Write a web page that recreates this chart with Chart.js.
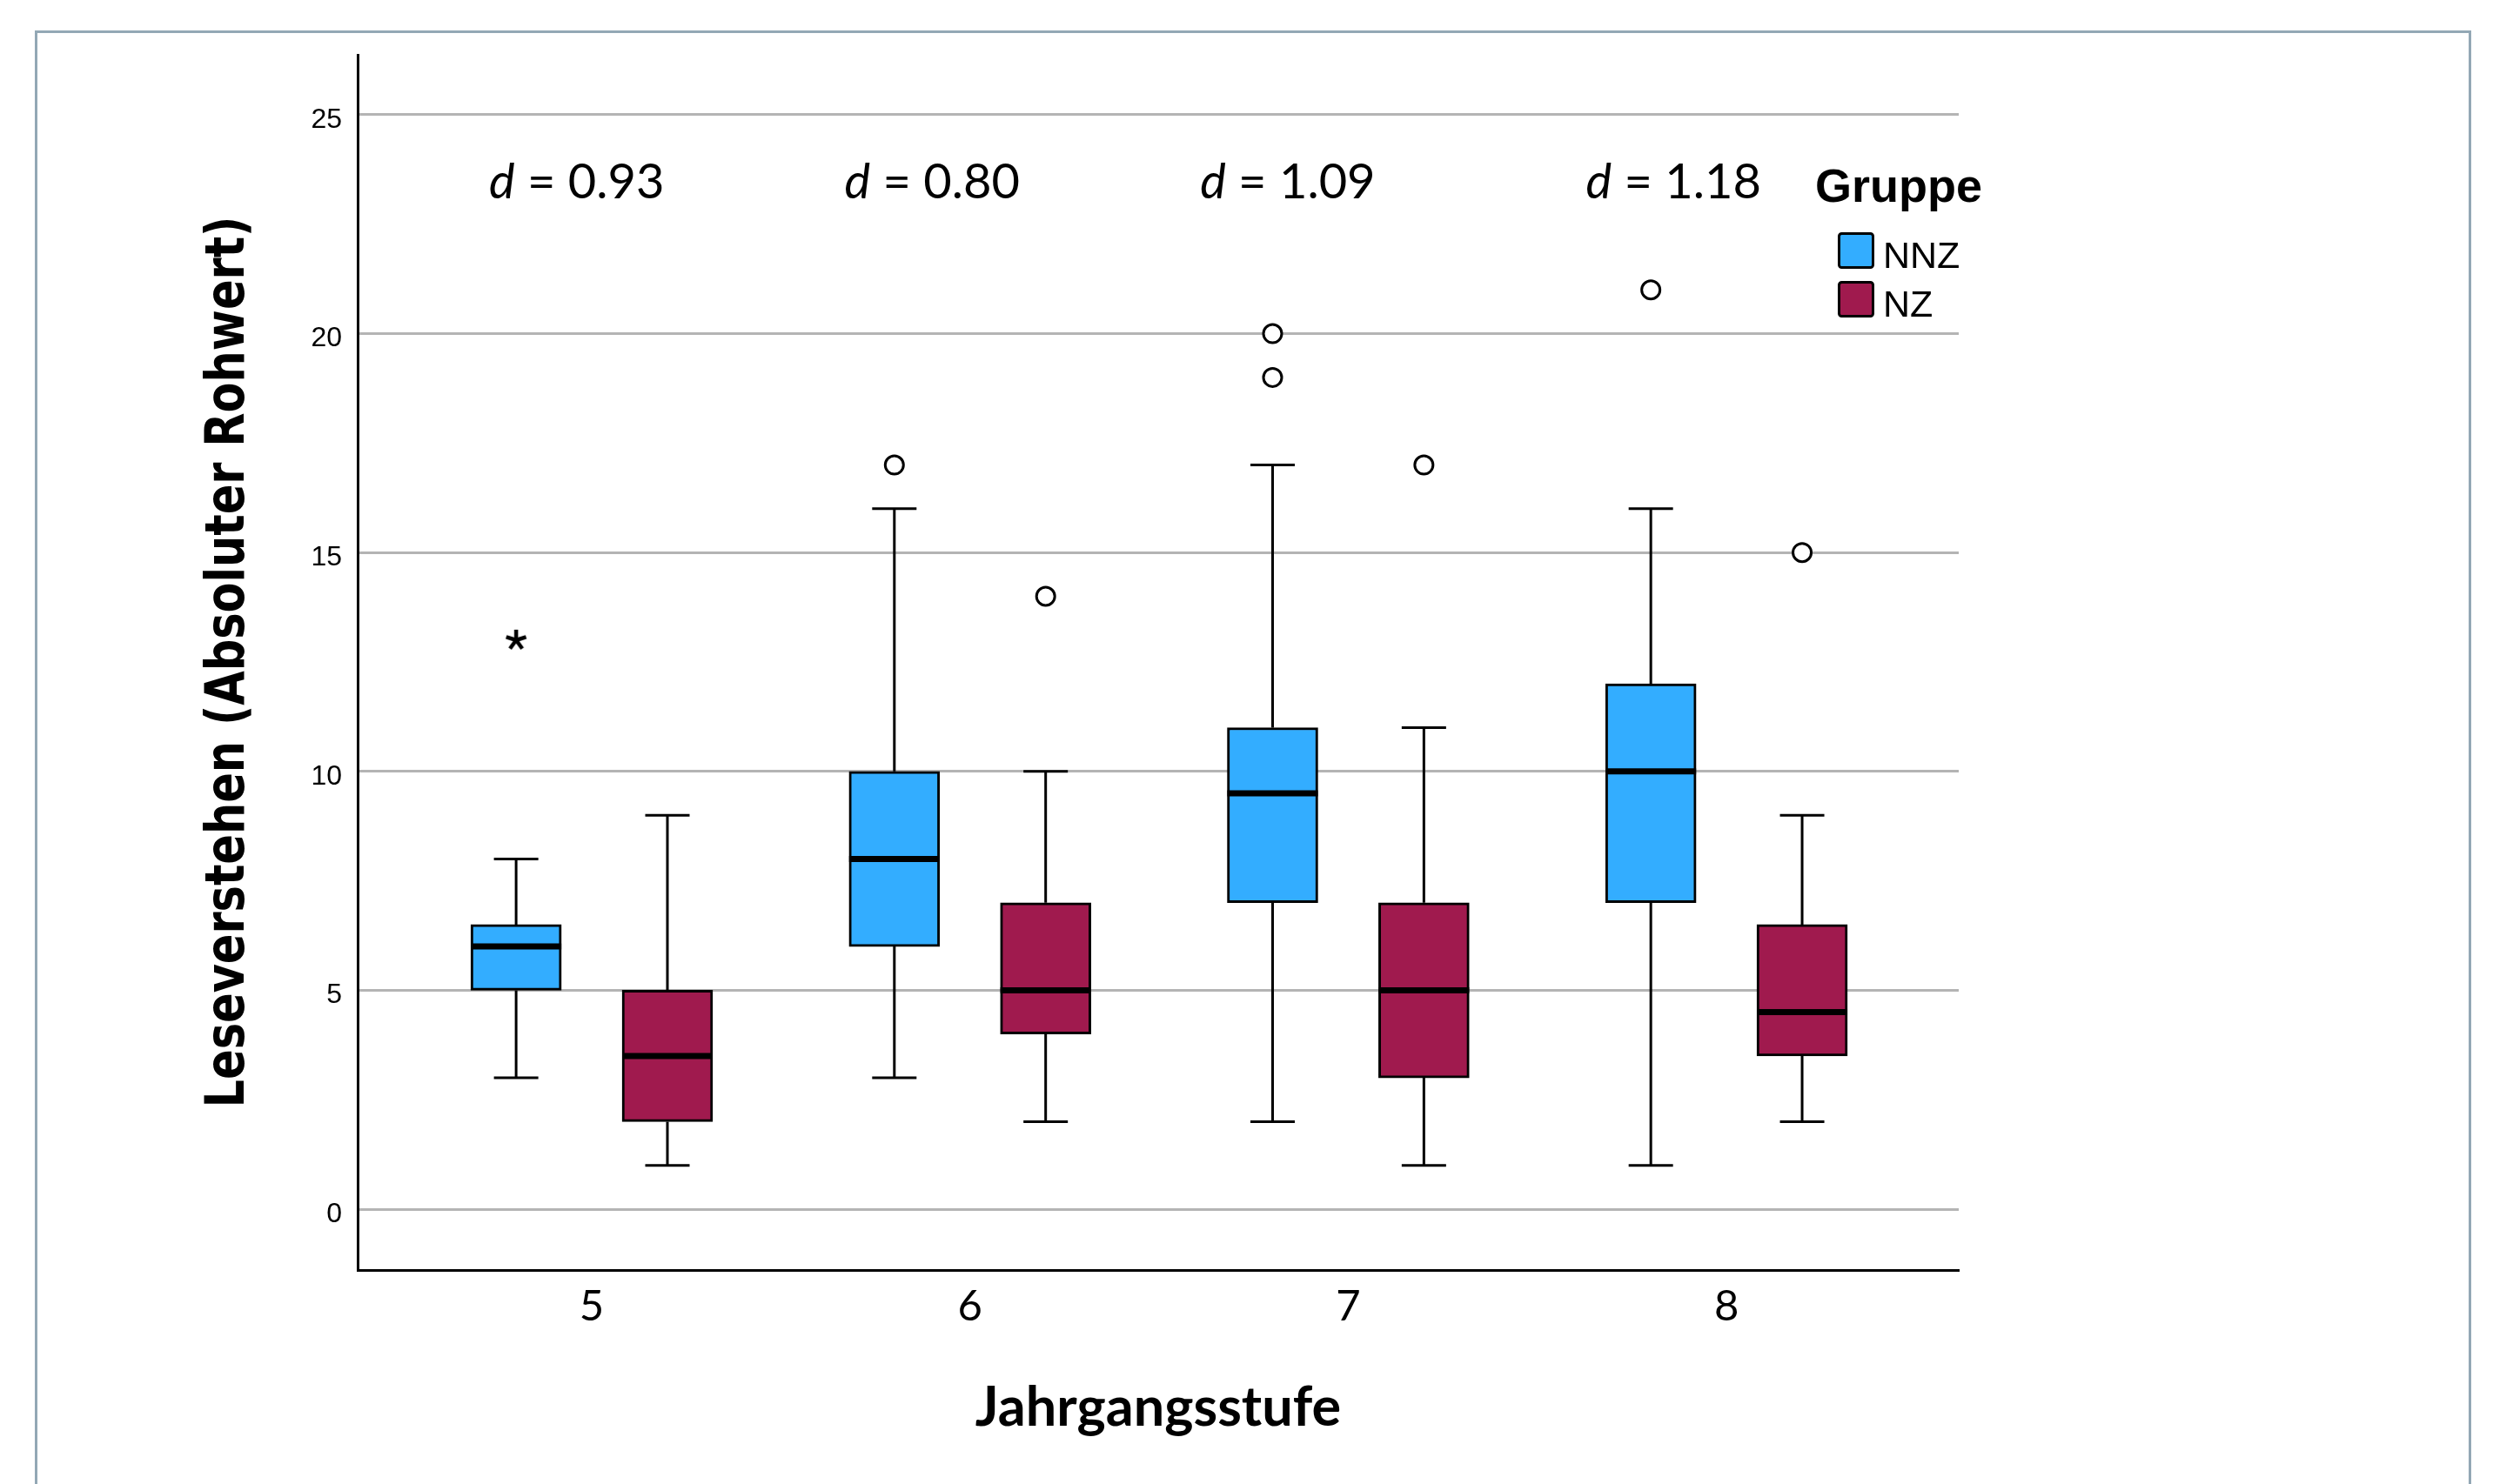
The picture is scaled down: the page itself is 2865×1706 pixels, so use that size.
<!DOCTYPE html>
<html>
<head>
<meta charset="utf-8">
<script src="https://cdn.jsdelivr.net/npm/chart.js@4.4.1/dist/chart.umd.min.js"></script>
<style>
    html, body { margin: 0; padding: 0; background: #fff; }
    #wrap { position: relative; width: 2865px; height: 1706px; overflow: hidden; }
    #frame { position: absolute; left: 40px; top: 35px; width: 2794px; height: 1720px;
             border: 3px solid #93a8b5; border-bottom: none; }
    #chart { position: absolute; left: 0; top: 0; }
</style>
</head>
<body>
<div id="wrap">
    <div id="frame"></div>
    <canvas id="chart" width="2865" height="1706"></canvas>
</div>
<script>
// Jahrgangsstufe (x categories)
const grades = [5, 6, 7, 8];
const yTicks = [0, 5, 10, 15, 20, 25];

// NNZ group
const nnzLow = [3, 3, 2, 1];
const nnzQ1 = [5, 6, 7, 7];
const nnzMedian = [6, 8, 9.5, 10];
const nnzQ3 = [6.5, 10, 11, 12];
const nnzHigh = [8, 16, 17, 16];
const nnzOutliers = [[], [17], [19, 20], [21]];
const nnzExtremes = [[13], [], [], []];

// NZ group
const nzLow = [1, 2, 1, 2];
const nzQ1 = [2, 4, 3, 3.5];
const nzMedian = [3.5, 5, 5, 4.5];
const nzQ3 = [5, 7, 7, 6.5];
const nzHigh = [9, 10, 11, 9];
const nzOutliers = [[], [14], [17], [15]];

// Cohen's d per grade
const effectSizes = ["0.93", "0.80", "1.09", "1.18"];

const NNZ_COLOR = "#33adff";
const NZ_COLOR = "#a01a4e";
const SHIFT = 0.2;

function boxData(q1, q3, shift) {
    return grades.map((g, i) => ({ x: g + shift, y: [q1[i], q3[i]] }));
}

function pointData(list, shift) {
    const pts = [];
    list.forEach((vals, i) => vals.forEach(v => pts.push({ x: grades[i] + shift, y: v })));
    return pts;
}

function makeStar() {
    const c = document.createElement("canvas");
    c.width = 30;
    c.height = 30;
    const g = c.getContext("2d");
    g.strokeStyle = "#000";
    g.lineWidth = 4.5;
    for (let k = 0; k < 5; k++) {
        const a = -Math.PI / 2 + k * 2 * Math.PI / 5;
        g.beginPath();
        g.moveTo(15, 15);
        g.lineTo(15 + 12 * Math.cos(a), 15 + 12 * Math.sin(a));
        g.stroke();
    }
    return c;
}

const boxplotLines = {
    id: "boxplotLines",
    beforeDatasetsDraw(chart) {
        const { ctx, scales: { x, y } } = chart;
        ctx.save();
        ctx.strokeStyle = "#000";
        ctx.lineWidth = 3;
        chart.data.datasets.forEach(ds => {
            if (!ds.stats) return;
            ds.data.forEach((d, i) => {
                const px = x.getPixelForValue(d.x);
                const pairs = [[ds.stats.q3[i], ds.stats.high[i]], [ds.stats.q1[i], ds.stats.low[i]]];
                pairs.forEach(([from, to]) => {
                    const y0 = y.getPixelForValue(from);
                    const y1 = y.getPixelForValue(to);
                    ctx.beginPath();
                    ctx.moveTo(px, y0);
                    ctx.lineTo(px, y1);
                    ctx.moveTo(px - 25.5, y1);
                    ctx.lineTo(px + 25.5, y1);
                    ctx.stroke();
                });
            });
        });
        ctx.restore();
    },
    afterDatasetsDraw(chart) {
        const { ctx, scales: { x, y } } = chart;
        ctx.save();
        ctx.strokeStyle = "#000";
        ctx.lineWidth = 7;
        chart.data.datasets.forEach(ds => {
            if (!ds.stats) return;
            ds.data.forEach((d, i) => {
                const px = x.getPixelForValue(d.x);
                const py = y.getPixelForValue(ds.stats.median[i]);
                ctx.beginPath();
                ctx.moveTo(px - 52, py);
                ctx.lineTo(px + 52, py);
                ctx.stroke();
            });
        });
        ctx.restore();
    }
};

const annotations = {
    id: "annotations",
    afterDraw(chart) {
        const { ctx, scales: { x, y } } = chart;
        ctx.save();
        ctx.fillStyle = "#000";
        ctx.textBaseline = "alphabetic";

        // effect sizes above the groups
        const dShift = [-0.04, -0.1, -0.16, -0.14];
        const base = y.getPixelForValue(23.1);
        effectSizes.forEach((txt, i) => {
            const cx = x.getPixelForValue(grades[i] + dShift[i]);
            ctx.font = "italic 56px Lato";
            const wd = ctx.measureText("d").width;
            ctx.font = "56px Lato";
            const rest = " = " + txt;
            const wr = ctx.measureText(rest).width;
            const left = cx - (wd + wr) / 2;
            ctx.font = "italic 56px Lato";
            ctx.textAlign = "left";
            ctx.fillText("d", left, base);
            ctx.font = "56px Lato";
            ctx.fillText(rest, left + wd, base);
        });

        // legend
        const lx = chart.chartArea.right - 165;
        ctx.font = "bold 54px 'Liberation Sans'";
        ctx.fillText("Gruppe", lx, 232);
        [["NNZ", NNZ_COLOR, 267], ["NZ", NZ_COLOR, 323]].forEach(([label, color, top]) => {
            ctx.fillStyle = color;
            ctx.strokeStyle = "#000";
            ctx.lineWidth = 3;
            ctx.beginPath();
            ctx.roundRect(lx + 27.5, top + 1.5, 39, 39, 3);
            ctx.fill();
            ctx.stroke();
            ctx.fillStyle = "#000";
            ctx.font = "43px 'Liberation Sans'";
            ctx.fillText(label, lx + 78, top + 41);
        });

        // y axis title, drawn a bit taller than the font
        ctx.translate(280, 761);
        ctx.rotate(-Math.PI / 2);
        ctx.scale(1, 1.22);
        ctx.textAlign = "center";
        ctx.font = "bold 51px 'DejaVu Sans'";
        ctx.fillText("Leseverstehen (Absoluter Rohwert)", 0, 0);
        ctx.restore();
    }
};

const star = makeStar();

new Chart(document.getElementById("chart"), {
    type: "bar",
    data: {
        datasets: [
            {
                label: "NNZ",
                data: boxData(nnzQ1, nnzQ3, -SHIFT),
                backgroundColor: NNZ_COLOR,
                borderColor: "#000",
                borderWidth: 3,
                borderSkipped: false,
                barThickness: 104,
                grouped: false,
                stats: { low: nnzLow, q1: nnzQ1, median: nnzMedian, q3: nnzQ3, high: nnzHigh }
            },
            {
                label: "NZ",
                data: boxData(nzQ1, nzQ3, SHIFT),
                backgroundColor: NZ_COLOR,
                borderColor: "#000",
                borderWidth: 3,
                borderSkipped: false,
                barThickness: 104,
                grouped: false,
                stats: { low: nzLow, q1: nzQ1, median: nzMedian, q3: nzQ3, high: nzHigh }
            },
            {
                type: "scatter",
                label: "Ausreißer",
                data: pointData(nnzOutliers, -SHIFT).concat(pointData(nzOutliers, SHIFT)),
                pointStyle: "circle",
                pointRadius: 10.5,
                pointBorderWidth: 3,
                pointBorderColor: "#000",
                pointBackgroundColor: "#fff"
            },
            {
                type: "scatter",
                label: "Extremwerte",
                data: pointData(nnzExtremes, -SHIFT),
                pointStyle: star,
                pointRadius: 12
            }
        ]
    },
    options: {
        responsive: false,
        devicePixelRatio: 1,
        animation: false,
        layout: {
            padding: { left: 0, top: 63, right: 614, bottom: 0 }
        },
        plugins: {
            legend: { display: false },
            tooltip: { enabled: false }
        },
        scales: {
            x: {
                type: "linear",
                offset: false,
                min: 4.381,
                max: 8.614,
                afterBuildTicks: s => { s.ticks = grades.map(v => ({ value: v })); },
                afterFit: s => { s.height = 246; },
                grid: { display: false, drawTicks: false, offset: false },
                border: { color: "#000", width: 3 },
                ticks: {
                    color: "#000",
                    font: { family: "Lato", size: 49 },
                    padding: 13,
                    maxRotation: 0,
                    autoSkip: false,
                    callback: v => String(v)
                },
                title: {
                    display: true,
                    text: "Jahrgangsstufe",
                    color: "#000",
                    font: { family: "Lato", size: 63, weight: "bold" },
                    padding: { top: 0, bottom: 50 }
                }
            },
            y: {
                min: -1.39,
                max: 26.37,
                afterBuildTicks: s => { s.ticks = yTicks.map(v => ({ value: v })); },
                afterFit: s => { s.width = 411; },
                grid: { color: "#b4b4b4", lineWidth: 3, drawTicks: false },
                border: { color: "#000", width: 3 },
                ticks: {
                    color: "#000",
                    font: { family: "Liberation Sans", size: 32 },
                    padding: 18,
                    labelOffset: 6
                }
            }
        }
    },
    plugins: [boxplotLines, annotations]
});
</script>
</body>
</html>
